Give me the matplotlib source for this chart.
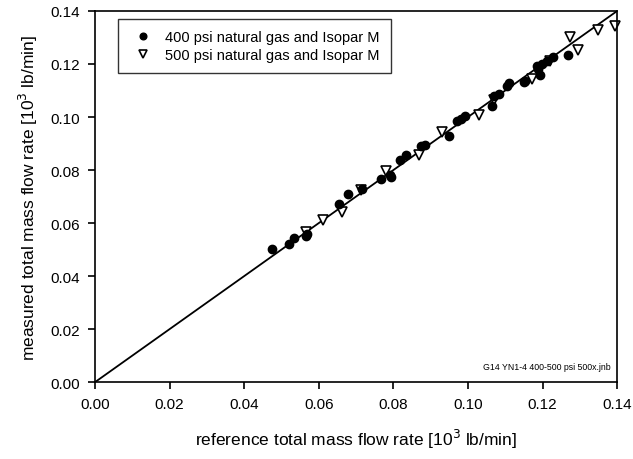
import matplotlib.pyplot as plt

plt.rcParams['font.family'] = ['Liberation Sans', 'DejaVu Sans']

# 400 psi natural gas and Isopar M (filled circles)
ref_400 = [0.0475, 0.0519, 0.0534, 0.0568, 0.0566, 0.0653, 0.0679, 0.0717,
           0.0766, 0.0791, 0.0795, 0.0818, 0.0835, 0.0873, 0.0884, 0.0948,
           0.0971, 0.0980, 0.0993, 0.1064, 0.1071, 0.1082, 0.1104, 0.1111,
           0.1152, 0.1149, 0.1184, 0.1189, 0.1193, 0.1198, 0.1211, 0.1229,
           0.1267]
meas_400 = [0.0504, 0.0523, 0.0542, 0.0560, 0.0550, 0.0672, 0.0710, 0.0728,
            0.0766, 0.0781, 0.0775, 0.0839, 0.0858, 0.0889, 0.0894, 0.0927,
            0.0986, 0.0993, 0.1003, 0.1043, 0.1078, 0.1087, 0.1118, 0.1128,
            0.1137, 0.1132, 0.1194, 0.1181, 0.1157, 0.1200, 0.1213, 0.1225,
            0.1234]

# 500 psi natural gas and Isopar M (open down triangles)
ref_500 = [0.0566, 0.0612, 0.0663, 0.0712, 0.0779, 0.0868, 0.0931, 0.1029,
           0.1069, 0.1171, 0.1220, 0.1274, 0.1296, 0.1349, 0.1394]
meas_500 = [0.0567, 0.0612, 0.0642, 0.0725, 0.0795, 0.0855, 0.0945, 0.1008,
            0.1065, 0.1145, 0.1210, 0.1300, 0.1253, 0.1330, 0.1345]

ticks = [0.00, 0.02, 0.04, 0.06, 0.08, 0.10, 0.12, 0.14]

fig = plt.figure(figsize=(6.33, 4.6), dpi=100)
ax = fig.add_axes([0.150, 0.167, 0.825, 0.807])

ax.plot([0, 0.14], [0, 0.14], color='black', linewidth=1.3, zorder=1)
ax.plot(ref_400, meas_400, linestyle='none', marker='o', markersize=6,
        color='black', label='400 psi natural gas and Isopar M', zorder=3)
ax.plot(ref_500, meas_500, linestyle='none', marker='v', markersize=7.5,
        markerfacecolor='white', markeredgecolor='black', markeredgewidth=1.2,
        label='500 psi natural gas and Isopar M', zorder=2, clip_on=False)

ax.set_xlim(0, 0.14)
ax.set_ylim(0, 0.14)
ax.set_xticks(ticks)
ax.set_yticks(ticks)
ax.set_xticklabels([f'{t:.2f}' for t in ticks])
ax.set_yticklabels([f'{t:.2f}' for t in ticks])
ax.tick_params(direction='out', length=5, width=1.2, labelsize=11, pad=6)
for s in ax.spines.values():
    s.set_linewidth(1.2)

ax.set_xlabel(r'reference total mass flow rate [10$^3$ lb/min]', fontsize=12.5, labelpad=11)
ax.set_ylabel(r'measured total mass flow rate [10$^3$ lb/min]', fontsize=12.5, labelpad=7)

leg = ax.legend(loc='upper left', bbox_to_anchor=(0.044, 0.978), fontsize=10.5,
                frameon=True, fancybox=False, edgecolor='black', markerscale=0.8,
                handlelength=2.0, handletextpad=0.5, borderpad=0.75,
                labelspacing=0.3, borderaxespad=0)
leg.get_frame().set_linewidth(1.0)

ax.text(0.988, 0.03, 'G14 YN1-4 400-500 psi 500x.jnb', transform=ax.transAxes,
        ha='right', va='bottom', fontsize=6.3)

fig.savefig('out.png', dpi=100)
